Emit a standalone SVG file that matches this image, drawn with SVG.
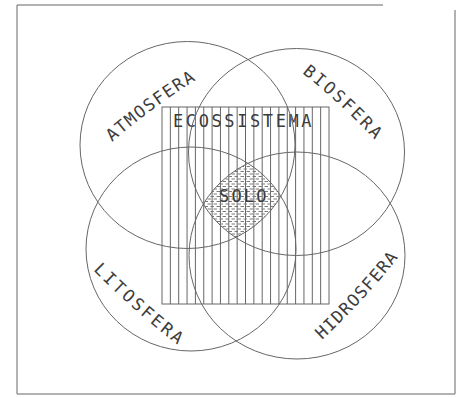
<svg xmlns="http://www.w3.org/2000/svg" width="465" height="398" viewBox="0 0 465 398">
<style>
.ln{fill:none;stroke:#666;stroke-width:1}
.lbl{font-family:"DejaVu Sans Mono","Liberation Mono",monospace;font-size:17px;fill:#3c3c3c}
</style>
<defs>
<pattern id="dash" patternUnits="userSpaceOnUse" width="6" height="5">
<path d="M0.5 1.5H4M3.5 4H7M-2.5 4H1" stroke="#7a7a7a" stroke-width="1"/>
</pattern>
<clipPath id="cA"><ellipse cx="187.5" cy="145" rx="107.5" ry="103.5"/></clipPath>
<clipPath id="cB"><ellipse cx="296.5" cy="152" rx="108" ry="103.5"/></clipPath>
<clipPath id="cL"><ellipse cx="191" cy="249" rx="105" ry="102"/></clipPath>
<clipPath id="cH"><ellipse cx="297" cy="255.5" rx="108" ry="103.5"/></clipPath>
<path id="pA" d="M112 142Q151.6 107.8 196 80"/>
<path id="pB" d="M302 73Q341.2 103.6 375 140"/>
<path id="pL" d="M93 270Q132.9 310.5 178 345"/>
<path id="pH" d="M322 340Q362.9 301.7 398 258"/>
</defs>
<rect width="465" height="398" fill="#fff"/>
<path class="ln" d="M383 5H17V394H455V10"/>
<g id="ecossistema">
<rect class="ln" x="162" y="107" width="167" height="197"/>
<path class="ln" d="M170.35 107V304M178.7 107V304M187.05 107V304M195.4 107V304M203.75 107V304M212.1 107V304M220.45 107V304M228.8 107V304M237.15 107V304M245.5 107V304M253.85 107V304M262.2 107V304M270.55 107V304M278.9 107V304M287.25 107V304M295.6 107V304M303.95 107V304M312.3 107V304M320.65 107V304"/>
<text class="lbl" x="173" y="127" font-size="18" letter-spacing="2.6">ECOSSISTEMA</text>
</g>
<g id="solo">
<g clip-path="url(#cA)"><g clip-path="url(#cB)"><g clip-path="url(#cL)">
<rect clip-path="url(#cH)" x="190" y="150" width="110" height="100" fill="url(#dash)"/>
</g></g></g>
<text class="lbl" x="219" y="202" font-size="18" letter-spacing="2.2">SOLO</text>
</g>
<g id="atmosfera">
<ellipse class="ln" cx="187.5" cy="145" rx="107.5" ry="103.5"/>
<text class="lbl" letter-spacing="1.5"><textPath href="#pA">ATMOSFERA</textPath></text>
</g>
<g id="biosfera">
<ellipse class="ln" cx="296.5" cy="152" rx="108" ry="103.5"/>
<text class="lbl" letter-spacing="2.4"><textPath href="#pB">BIOSFERA</textPath></text>
</g>
<g id="litosfera">
<ellipse class="ln" cx="191" cy="249" rx="105" ry="102"/>
<text class="lbl" letter-spacing="2.6"><textPath href="#pL">LITOSFERA</textPath></text>
</g>
<g id="hidrosfera">
<ellipse class="ln" cx="297" cy="255.5" rx="108" ry="103.5"/>
<text class="lbl" letter-spacing="1.1"><textPath href="#pH">HIDROSFERA</textPath></text>
</g>
</svg>
